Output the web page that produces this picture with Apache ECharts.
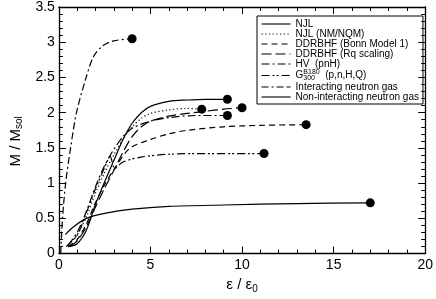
<!DOCTYPE html>
<html><head><meta charset="utf-8">
<script src="https://cdn.jsdelivr.net/npm/echarts@6/dist/echarts.min.js"></script>
<style>html,body{margin:0;padding:0;background:#fff}#c{width:436px;height:299px}</style>
</head><body><div id="c"></div>
<script>
const seriesNames = ['NJL','NJL (NM/NQM)','DDRBHF (Bonn Model 1)','DDRBHF (Rq scaling)','HV  (pnH)','G300B180 (p,n,H,Q)','Interacting neutron gas','Non-interacting neutron gas'];
const njl = [[0.5,0.1],[1,0.14],[1.5,0.33],[2,0.7],[2.5,1.02],[3,1.32],[3.5,1.62],[4,1.85],[4.5,2.0],[5,2.09],[6,2.16],[7,2.18],[8,2.19],[9.2,2.19]];
const njlNM = [[0.5,0.12],[1,0.27],[1.5,0.52],[2,0.86],[2.5,1.15],[3,1.4],[3.5,1.62],[4,1.8],[4.5,1.92],[5,1.99],[6,2.04],[7,2.06],[7.8,2.05]];
const bonn = [[0.5,0.1],[1,0.2],[1.5,0.42],[2,0.72],[2.5,0.98],[3.05,1.21],[3.85,1.49],[5,1.62],[6,1.7],[7,1.75],[9,1.8],[11,1.82],[13.5,1.83]];
const rq = [[0.6,0.1],[1,0.18],[1.5,0.38],[2,0.66],[2.5,0.93],[3,1.18],[3.5,1.44],[4,1.66],[4.5,1.8],[5,1.88],[6,1.95],[7,1.99],[8,2.02],[9,2.05],[10,2.07]];
const hv = [[0.5,0.12],[1,0.3],[1.5,0.6],[2,0.95],[2.5,1.25],[3,1.48],[3.5,1.66],[4,1.78],[5,1.88],[6,1.93],[7.5,1.96],[9.2,1.96]];
const g300 = [[0.4,0.1],[1,0.26],[1.5,0.58],[2,0.92],[2.5,1.22],[2.8,1.38],[3.05,1.21],[3.5,1.3],[4.5,1.37],[6,1.41],[8,1.42],[11.2,1.42]];
const intGas = [[0.1,0.0],[0.2,0.5],[0.37,1.0],[0.64,1.5],[0.96,2.0],[1.49,2.5],[1.9,2.8],[2.4,2.95],[3.0,3.02],[4.0,3.05]];
const nonIntGas = [[0.35,0.27],[0.8,0.38],[1.5,0.5],[2.5,0.57],[4,0.63],[6,0.67],[9,0.69],[13,0.71],[17,0.72]];
const xTicks = [0,5,10,15,20];
const yTicks = [0,0.5,1,1.5,2,2.5,3,3.5];

const allData = [njl, njlNM, bonn, rq, hv, g300, intGas, nonIntGas];
const dashes = ['solid',[1.2,2.5],[6,4],[10,4],[8,3,2,3],[8,3,2,2,2,3],[7,3,2,3,7,3],'solid'];

const FONT = 'Liberation Sans';
const chart = echarts.init(document.getElementById('c'));
const series = allData.map((d,i)=>({
  name: seriesNames[i], type:'line', data:d, smooth:0.3, symbol:'none', showSymbol:false,
  itemStyle:{color:'#000'},
  lineStyle:{color:'#000', width:1.2, type:dashes[i]}, z:2
}));
series.push({
  name:'ends', type:'scatter', data: allData.map(d=>d[d.length-1]),
  symbol:'circle', symbolSize:9, itemStyle:{color:'#000',opacity:1}, z:5
});
const axCommon = {
  axisLine:{onZero:false,lineStyle:{color:'#000',width:1.3}},
  axisTick:{inside:true,length:7,lineStyle:{color:'#000',width:1}},
  minorTick:{show:true,splitNumber:5,length:4,lineStyle:{color:'#000',width:1}},
  splitLine:{show:false}
};
chart.setOption({
  animation:false,
  backgroundColor:'#fff',
  grid:{left:51,right:9,top:7,bottom:40},
  legend:{
    data: seriesNames, orient:'vertical', left:257, top:16,
    borderColor:'#000', borderWidth:1, padding:[3,4,2,4], itemGap:0,
    itemWidth:29, itemHeight:11,
    itemStyle:{opacity:0, borderWidth:0},
    lineStyle:{width:1.1},
    textStyle:{fontFamily:FONT,fontSize:10,color:'#000',
      rich:{sub:{fontSize:7,verticalAlign:'bottom',width:0,padding:[6,0,0,0]},sup:{fontSize:7,verticalAlign:'top',padding:[0,0,6,0]},n:{fontSize:10}}},
    formatter: n => n.startsWith('G300') ? 'G{sub|300}{sup|B180}  (p,n,H,Q)' : n
  },
  xAxis:[
    Object.assign({type:'value',min:0,max:20,interval:5,position:'bottom',
      name:'ε / {s|ε}{s0|0}', nameLocation:'middle', nameGap:18,
      nameTextStyle:{fontFamily:FONT,fontSize:15,color:'#000',rich:{s:{fontSize:15},s0:{fontSize:10,padding:[8,0,0,0]}}},
      axisLabel:{fontFamily:FONT,fontSize:14,color:'#000',margin:5,
        formatter:v=>xTicks.includes(v)?String(v):''}}, axCommon),
    Object.assign({type:'value',min:0,max:20,interval:5,position:'top',axisLabel:{show:false}}, axCommon)
  ],
  yAxis:[
    Object.assign({type:'value',min:0,max:3.5,interval:0.5,position:'left',
      name:'M / M{s|sol}', nameLocation:'middle', nameGap:33, nameRotate:90,
      nameTextStyle:{fontFamily:FONT,fontSize:15,color:'#000',padding:[0,22,0,0],rich:{s:{fontSize:10,padding:[8,0,0,0]}}},
      axisLabel:{fontFamily:FONT,fontSize:14,color:'#000',margin:4,
        formatter:v=>yTicks.includes(v)?String(v):''}}, axCommon),
    Object.assign({type:'value',min:0,max:3.5,interval:0.5,position:'right',axisLabel:{show:false}}, axCommon)
  ],
  series: series
});
</script></body></html>
